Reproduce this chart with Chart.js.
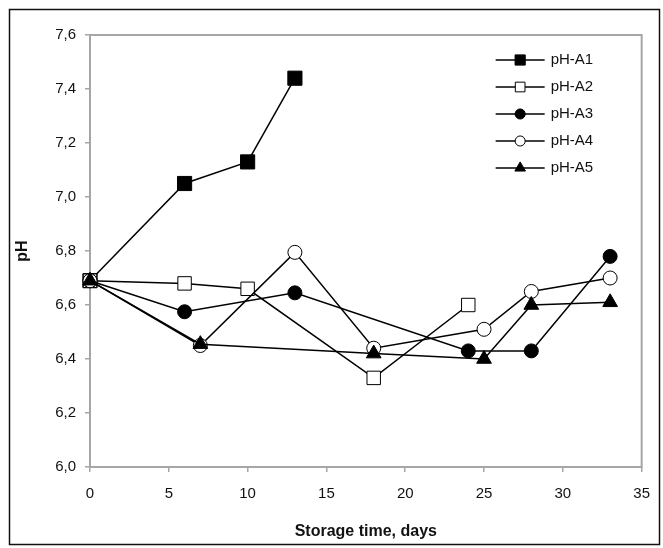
<!DOCTYPE html>
<html>
<head>
<meta charset="utf-8">
<script src="https://cdn.jsdelivr.net/npm/chart.js@4.4.1/dist/chart.umd.min.js"></script>
<style>
  html, body { margin: 0; padding: 0; background: #fff; }
  #wrap { width: 663px; height: 548px; }
</style>
</head>
<body>
<div id="wrap"><canvas id="chart1"></canvas></div>
<script>
var xTicks = [0, 5, 10, 15, 20, 25, 30, 35];
var yTicks = [6.0, 6.2, 6.4, 6.6, 6.8, 7.0, 7.2, 7.4, 7.6];

var seriesNames = ["pH-A1", "pH-A2", "pH-A3", "pH-A4", "pH-A5"];
var daysA1 = [0, 6, 10, 13];
var phA1   = [6.69, 7.05, 7.13, 7.44];
var daysA2 = [0, 6, 10, 18, 24];
var phA2   = [6.69, 6.68, 6.66, 6.33, 6.60];
var daysA3 = [0, 6, 13, 24, 28, 33];
var phA3   = [6.69, 6.575, 6.645, 6.43, 6.43, 6.78];
var daysA4 = [0, 7, 13, 18, 25, 28, 33];
var phA4   = [6.69, 6.45, 6.795, 6.44, 6.51, 6.65, 6.70];
var daysA5 = [0, 7, 18, 25, 28, 33];
var phA5   = [6.69, 6.455, 6.42, 6.40, 6.60, 6.61];

var FONT = '"Liberation Sans", Arial, sans-serif';

function pairs(xs, ys) {
  return xs.map(function(x, i) { return {x: x, y: ys[i]}; });
}

// later series are painted over earlier ones
function series(i, xs, ys, style, radius, fill) {
  return {
    label: seriesNames[i],
    data: pairs(xs, ys),
    order: seriesNames.length - i,
    borderColor: "#000",
    borderWidth: 1.5,
    tension: 0,
    fill: false,
    clip: false,
    pointStyle: style,
    pointRadius: radius,
    pointHoverRadius: radius,
    pointBackgroundColor: fill,
    pointBorderColor: "#000",
    pointBorderWidth: 1
  };
}

// white page, outer frame and the grey box round the plot
var framePlugin = {
  id: "frame",
  beforeDraw: function(chart) {
    var ctx = chart.ctx;
    ctx.save();
    ctx.fillStyle = "#fff";
    ctx.fillRect(0, 0, chart.width, chart.height);
    ctx.strokeStyle = "#111";
    ctx.lineWidth = 1.5;
    ctx.strokeRect(9.5, 9.5, 650, 535);
    ctx.restore();
  },
  beforeDatasetsDraw: function(chart) {
    var a = chart.chartArea, ctx = chart.ctx;
    ctx.save();
    ctx.strokeStyle = "#a6a6a6";
    ctx.lineWidth = 2;
    ctx.strokeRect(a.left, a.top, a.right - a.left, a.bottom - a.top);
    ctx.restore();
  }
};

// legend inside the plot, line with marker like the series
var legendPlugin = {
  id: "insetLegend",
  afterDraw: function(chart) {
    var a = chart.chartArea, ctx = chart.ctx;
    var x0 = a.right - 146, y0 = a.top + 25, step = 27;
    chart.data.datasets.forEach(function(ds, i) {
      var y = y0 + i * step;
      ctx.save();
      ctx.strokeStyle = "#000";
      ctx.lineWidth = 1.5;
      ctx.beginPath();
      ctx.moveTo(x0, y);
      ctx.lineTo(x0 + 49, y);
      ctx.stroke();
      ctx.fillStyle = ds.pointBackgroundColor;
      ctx.strokeStyle = "#000";
      ctx.lineWidth = 1;
      Chart.helpers.drawPoint(ctx, {
        pointStyle: ds.pointStyle, radius: ds.pointRadius * 0.72, rotation: 0, borderWidth: 1
      }, x0 + 24.5, y);
      ctx.fillStyle = "#111";
      ctx.font = "15px " + FONT;
      ctx.textAlign = "left";
      ctx.textBaseline = "middle";
      ctx.fillText(ds.label, x0 + 55, y);
      ctx.restore();
    });
  }
};

var chart1 = new Chart(document.getElementById("chart1"), {
  type: "line",
  data: {
    datasets: [
      series(0, daysA1, phA1, "rect", 10, "#000"),
      series(1, daysA2, phA2, "rect", 9.5, "#fff"),
      series(2, daysA3, phA3, "circle", 7, "#000"),
      series(3, daysA4, phA4, "circle", 7, "#fff"),
      series(4, daysA5, phA5, "triangle", 8.5, "#000")
    ]
  },
  options: {
    responsive: true,
    maintainAspectRatio: false,
    animation: false,
    events: [],
    layout: { padding: { left: 0, top: 35, right: 14, bottom: 0 } },
    plugins: {
      legend: { display: false },
      tooltip: { enabled: false }
    },
    scales: {
      x: {
        type: "linear",
        min: 0,
        max: 35,
        afterBuildTicks: function(s) { s.ticks = xTicks.map(function(v) { return {value: v}; }); },
        afterFit: function(s) { s.height = 81; },
        grid: { drawOnChartArea: false, tickLength: 5, color: "#a6a6a6", lineWidth: 1.5 },
        border: { display: false },
        ticks: { color: "#111", font: { size: 15, family: FONT }, padding: 13, autoSkip: false, maxRotation: 0 },
        title: {
          display: true, text: "Storage time, days", color: "#111",
          font: { size: 16, weight: "bold", family: FONT }, padding: { top: 0, bottom: 7 }
        }
      },
      y: {
        type: "linear",
        min: 6.0,
        max: 7.6,
        afterBuildTicks: function(s) { s.ticks = yTicks.map(function(v) { return {value: v}; }); },
        afterFit: function(s) { s.width = 90; },
        grid: { drawOnChartArea: false, tickLength: 5, color: "#a6a6a6", lineWidth: 1.5 },
        border: { display: false },
        ticks: {
          color: "#111", font: { size: 15, family: FONT }, padding: 9, autoSkip: false,
          callback: function(v) { return v.toFixed(1).replace(".", ","); }
        },
        title: {
          display: true, text: "pH", color: "#111",
          font: { size: 16, weight: "bold", family: FONT }, padding: { top: 13, bottom: 0 }
        }
      }
    }
  },
  plugins: [framePlugin, legendPlugin]
});
</script>
</body>
</html>
